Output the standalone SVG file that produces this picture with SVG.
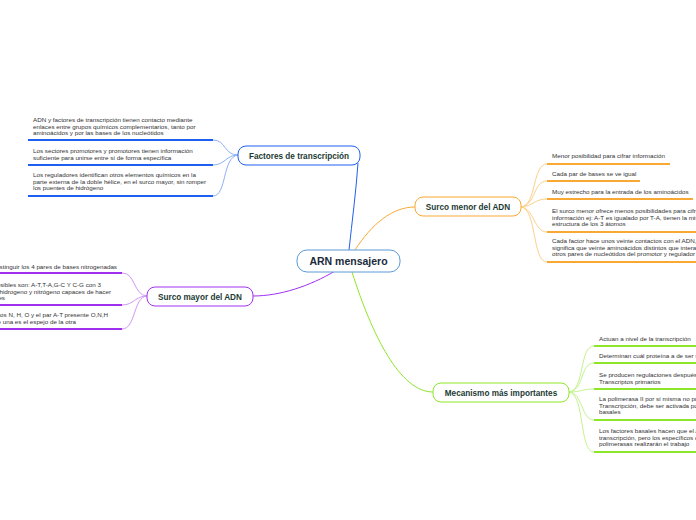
<svg xmlns="http://www.w3.org/2000/svg" width="696" height="520" viewBox="0 0 696 520">
<style>
.leaf{font-family:"Liberation Sans",Arial,sans-serif;font-size:6.25px;fill:#333}
.r{text-anchor:end}
.nt{font-family:"Liberation Sans",Arial,sans-serif;font-size:8.2px;font-weight:bold;fill:#1b3a33;text-anchor:middle}
.ct{font-family:"Liberation Sans",Arial,sans-serif;font-size:10.5px;font-weight:bold;fill:#1b2a3a;text-anchor:middle}
.c{fill:none;stroke-width:1}
.u{fill:none;stroke-width:2}
.b{stroke:#1f5ff0}.o{stroke:#f9a933}.p{stroke:#a030f0}.g{stroke:#8ee62a}
.bl{stroke:#8fb0f5}.ol{stroke:#fbcf8a}.pl{stroke:#cf98f7}.gl{stroke:#c4f28e}
</style>
<rect width="696" height="520" fill="#ffffff"/>
<g id="connectors">
<path class="c b" d="M349,250 C352,222 356,192 358,163"/>
<path class="c o" d="M355,250 C372,224 392,207 415,207"/>
<path class="c p" d="M335,271 C310,286 280,296 253,296"/>
<path class="c g" d="M352,272 C372,335 400,392 433,392"/>
<path class="c bl" d="M238,155 C224,155 226,140 213,140"/>
<path class="c bl" d="M238,155 C226,155 225,165 213,165"/>
<path class="c bl" d="M238,155 C222,157 227,196 213,196"/>
<path class="c ol" d="M521,207 C537,205 532,164 547,164"/>
<path class="c ol" d="M521,207 C536,205 533,181 547,181"/>
<path class="c ol" d="M521,207 C534,206 534,199 547,199"/>
<path class="c ol" d="M521,207 C534,208 534,232 547,232"/>
<path class="c ol" d="M521,207 C537,209 532,262 547,262"/>
<path class="c pl" d="M147,296 C133,295 136,273 122,273"/>
<path class="c pl" d="M147,296 C135,296 134,305 122,305"/>
<path class="c pl" d="M147,296 C133,297 136,329 122,329"/>
<path class="c gl" d="M569,392 C585,390 579,346 594,346"/>
<path class="c gl" d="M569,392 C584,391 580,363 594,363"/>
<path class="c gl" d="M569,392 C582,392 581,389 594,389"/>
<path class="c gl" d="M569,392 C583,393 581,420 594,420"/>
<path class="c gl" d="M569,392 C585,394 579,452 594,452"/>
</g>
<g id="central">
<rect x="297" y="250" width="103" height="22" rx="10" fill="#fff" stroke="#5b9bd5" stroke-width="1"/>
<text class="ct" x="348.5" y="264.8">ARN mensajero</text>
</g>
<g id="factores">
<rect x="238" y="146" width="122" height="19" rx="8" fill="#fff" stroke="#1f5ff0" stroke-width="1"/>
<text class="nt" x="299" y="158.6">Factores de transcripción</text>
</g>
<g id="factores-leaf1">
<text class="leaf" x="33" y="122">ADN y factores de transcripción tienen contacto mediante</text>
<text class="leaf" x="33" y="128.5">enlaces entre grupos químicos complementarios, tanto por</text>
<text class="leaf" x="33" y="135">aminoácidos y por las bases de los nucleótidos</text>
<path class="u b" d="M28,140 H213"/>
</g>
<g id="factores-leaf2">
<text class="leaf" x="33" y="153">Los sectores promotores y promotores tienen información</text>
<text class="leaf" x="33" y="159.5">suficiente para unirse entre sí de forma específica</text>
<path class="u b" d="M28,165 H213"/>
</g>
<g id="factores-leaf3">
<text class="leaf" x="33" y="177">Los reguladores identifican otros elementos químicos en la</text>
<text class="leaf" x="33" y="183.5">parte externa de la doble hélice, en el surco mayor, sin romper</text>
<text class="leaf" x="33" y="190">los puentes de hidrógeno</text>
<path class="u b" d="M28,196 H213"/>
</g>
<g id="menor">
<rect x="415" y="197" width="106" height="19" rx="8" fill="#fff" stroke="#f9a933" stroke-width="1"/>
<text class="nt" x="468" y="209.6">Surco menor del ADN</text>
</g>
<g id="menor-leaf1">
<text class="leaf" x="552" y="158">Menor posibilidad para cifrar información</text>
<path class="u o" d="M547,164 H670"/>
</g>
<g id="menor-leaf2">
<text class="leaf" x="552" y="176">Cada par de bases se ve igual</text>
<path class="u o" d="M547,181 H640"/>
</g>
<g id="menor-leaf3">
<text class="leaf" x="552" y="194">Muy estrecho para la entrada de los aminoácidos</text>
<path class="u o" d="M547,199 H693"/>
</g>
<g id="menor-leaf4">
<text class="leaf" x="552" y="213">El surco menor ofrece menos posibilidades para cifrar</text>
<text class="leaf" x="552" y="219.5">información ej: A-T es igualado por T-A, tienen la misma</text>
<text class="leaf" x="552" y="226">estructura de los 3 átomos</text>
<path class="u o" d="M547,232 H700"/>
</g>
<g id="menor-leaf5">
<text class="leaf" x="552" y="243">Cada factor hace unos veinte contactos con el ADN, esto</text>
<text class="leaf" x="552" y="249.5">significa que veinte aminoácidos distintos que interactúan con</text>
<text class="leaf" x="552" y="256">otros pares de nucleótidos del promotor y regulador</text>
<path class="u o" d="M547,262 H700"/>
</g>
<g id="mayor">
<rect x="147" y="287" width="106" height="19" rx="8" fill="#fff" stroke="#a030f0" stroke-width="1"/>
<text class="nt" x="200" y="299.6">Surco mayor del ADN</text>
</g>
<g id="mayor-leaf1">
<text class="leaf r" x="117" y="269">Permite distinguir los 4 pares de bases nitrogenadas</text>
<path class="u p" d="M-5,273 H122"/>
</g>
<g id="mayor-leaf2">
<text class="leaf r" x="101" y="287">Los pares posibles son: A-T,T-A,G-C Y C-G con 3</text>
<text class="leaf r" x="111" y="293.5">átomos de hidrogeno y nitrógeno capaces de hacer</text>
<text class="leaf r" x="5" y="300">puentes</text>
<path class="u p" d="M-5,305 H122"/>
</g>
<g id="mayor-leaf3">
<text class="leaf r" x="108" y="317">Los átomos N, H, O y el par A-T presente O,N,H</text>
<text class="leaf r" x="76" y="323.5">por lo que una es el espejo de la otra</text>
<path class="u p" d="M-5,329 H122"/>
</g>
<g id="mecanismo">
<rect x="433" y="383" width="136" height="19" rx="8" fill="#fff" stroke="#8ee62a" stroke-width="1"/>
<text class="nt" x="501" y="395.6">Mecanismo más importantes</text>
</g>
<g id="mec-leaf1">
<text class="leaf" x="599" y="341">Actuan a nivel de la transcripción</text>
<path class="u g" d="M594,346 H700"/>
</g>
<g id="mec-leaf2">
<text class="leaf" x="599" y="358">Determinan cuál proteína a de ser sintetizada</text>
<path class="u g" d="M594,363 H700"/>
</g>
<g id="mec-leaf3">
<text class="leaf" x="599" y="377">Se producen regulaciones después de la transcripción en los</text>
<text class="leaf" x="599" y="383.5">Transcriptos primarios</text>
<path class="u g" d="M594,389 H700"/>
</g>
<g id="mec-leaf4">
<text class="leaf" x="599" y="401">La polimerasa II por sí misma no puede iniciar la</text>
<text class="leaf" x="599" y="407.5">Transcripción,  debe ser activada por los factores</text>
<text class="leaf" x="599" y="414">basales</text>
<path class="u g" d="M594,420 H700"/>
</g>
<g id="mec-leaf5">
<text class="leaf" x="599" y="433">Los factores basales hacen que el ARN inicie la</text>
<text class="leaf" x="599" y="439.5">transcripción, pero los específicos deciden que</text>
<text class="leaf" x="599" y="446">polimerasas realizarán el trabajo</text>
<path class="u g" d="M594,452 H700"/>
</g>
</svg>
